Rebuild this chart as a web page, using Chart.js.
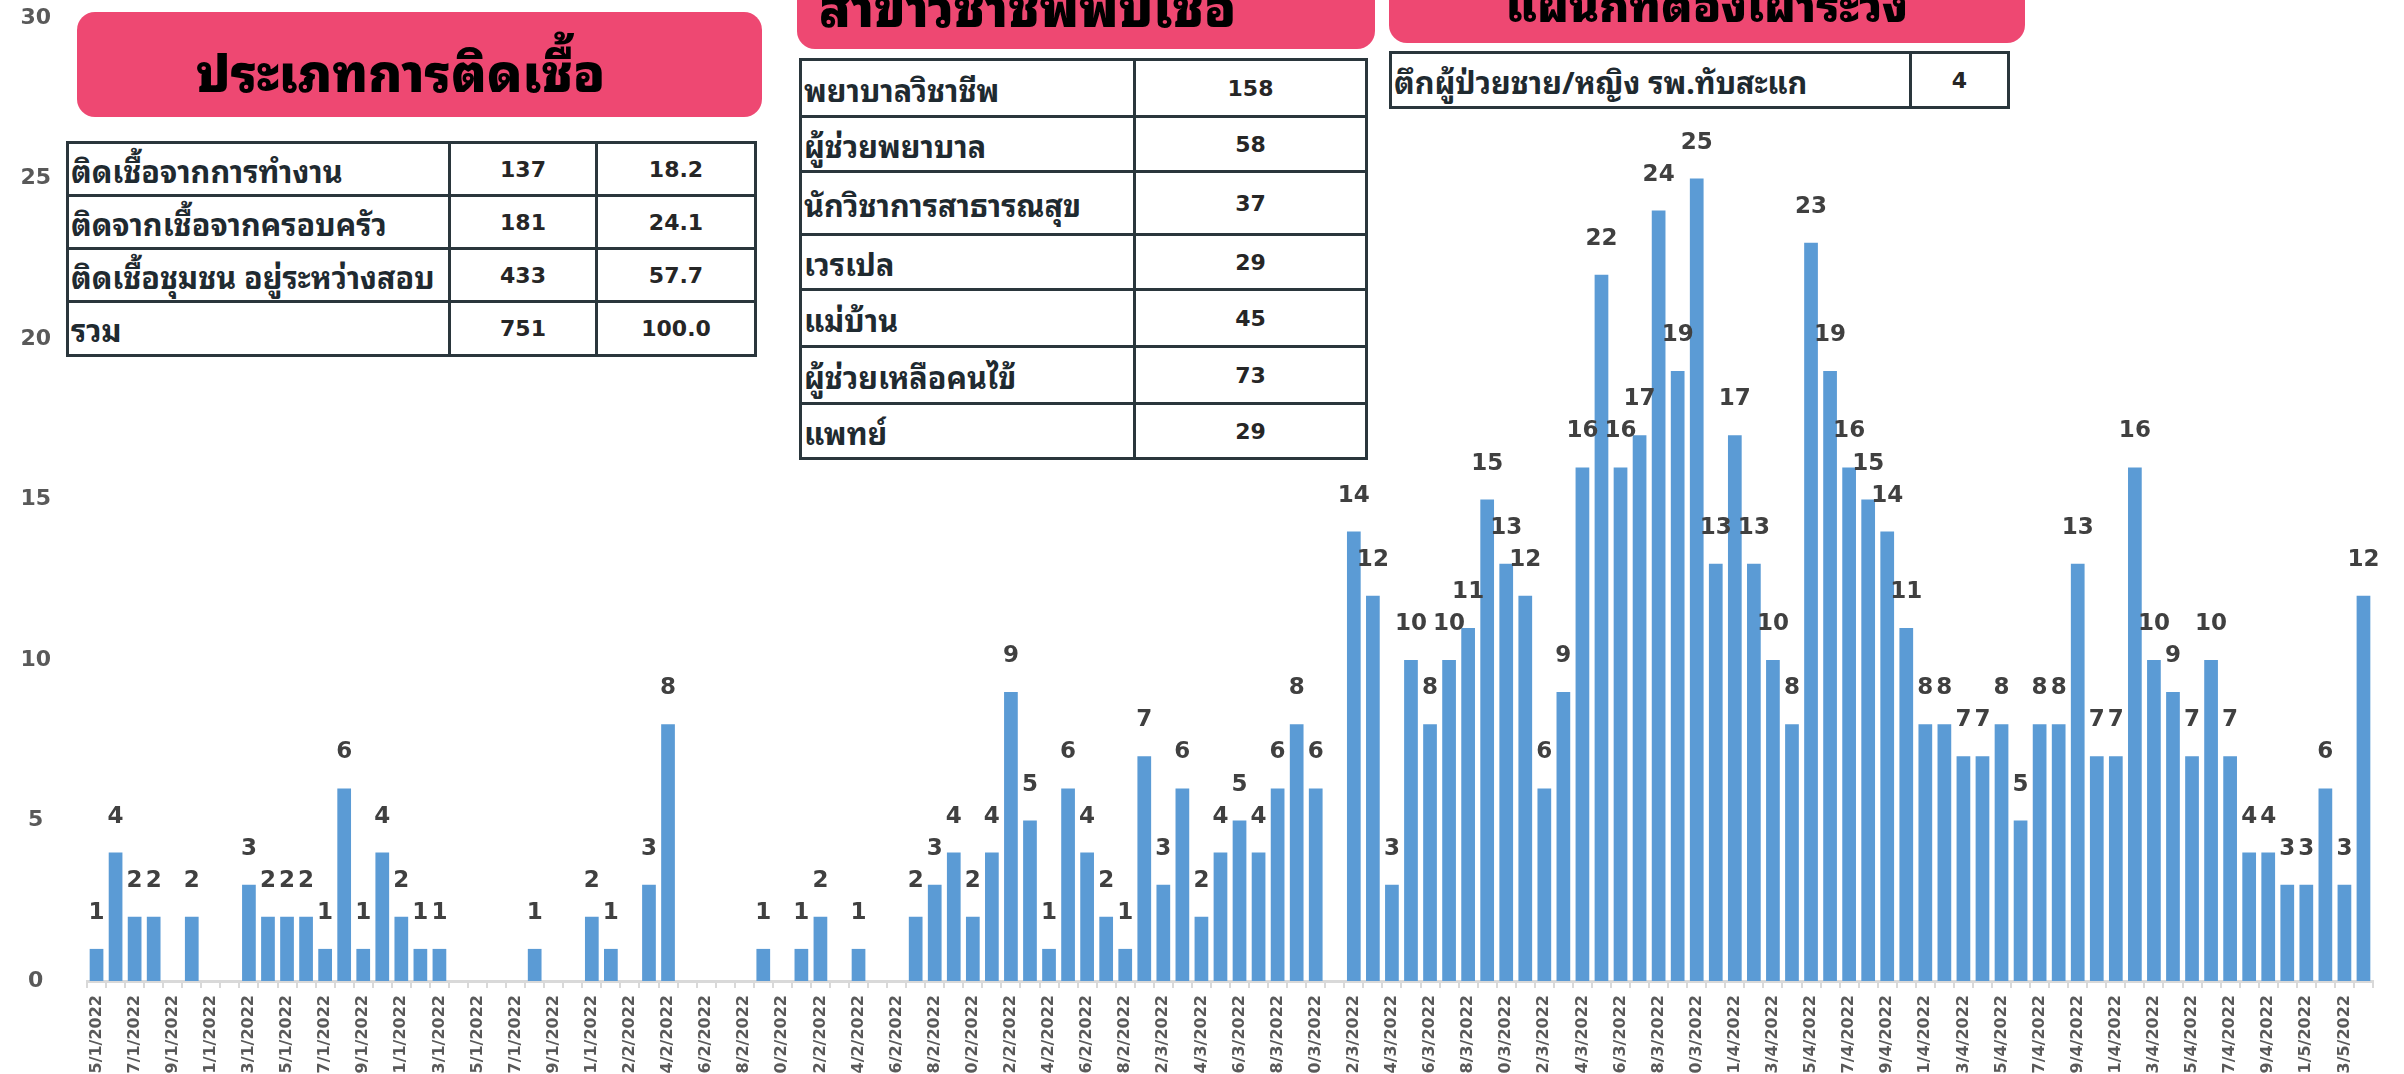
<!DOCTYPE html>
<html>
<head>
<meta charset="utf-8">
<script src="https://cdn.jsdelivr.net/npm/chart.js@4.4.1/dist/chart.umd.min.js"></script>
<style>
  html, body { margin: 0; padding: 0; background: #fff; width: 2404px; height: 1074px; overflow: hidden; }
  #wrap { position: relative; width: 2404px; height: 1100px; }
  canvas { position: absolute; left: 0; top: 0; }
  .banner {
    position: absolute; background: #ee4872; border-radius: 18px; box-sizing: border-box;
    display: flex; align-items: center; justify-content: center;
    font-family: "Noto Sans Thai Looped", Loma, Garuda, "Noto Sans Thai", Sarabun, sans-serif;
    font-weight: 900; font-size: 51px; color: #000;
  }
  table.box {
    position: absolute; border-collapse: collapse; background: #fff;
    font-family: "Noto Sans Thai Looped", Loma, Garuda, "Noto Sans Thai", Sarabun, sans-serif;
    font-weight: bold; font-size: 30.5px; color: #1f2a30; table-layout: fixed;
  }
  table.box td { border: 3px solid #2a363c; padding: 0 0 0 2px; white-space: nowrap; }
  table.box td.num { text-align: center; font-family: "DejaVu Sans", sans-serif; font-size: 22px; color: #262626; padding: 0; }
</style>
</head>
<body>
<div id="wrap">
  <canvas id="casesChart" width="2404" height="1100"></canvas>

  <div class="banner" style="left:77px; top:12px; width:685px; height:105px; padding-top:8px; padding-right:38px;">ประเภทการติดเชื้อ</div>
  <table class="box" style="left:66px; top:141px; width:688px;">
    <colgroup><col style="width:382px"><col style="width:147px"><col style="width:159px"></colgroup>
    <tbody id="typeRows"></tbody>
  </table>

  <div class="banner" style="left:797px; top:-56px; width:578px; height:105px; padding-top:14px; justify-content:flex-start; padding-left:22px;">สาขาวิชาชีพพบเชื้อ</div>
  <table class="box" style="left:799px; top:58px; width:566px;">
    <colgroup><col style="width:334px"><col style="width:232px"></colgroup>
    <tbody id="jobRows"></tbody>
  </table>

  <div class="banner" style="left:1389px; top:-62px; width:636px; height:105px; padding-top:22px; font-size:45px;">แผนกที่ต้องเฝ้าระวัง</div>
  <table class="box" style="left:1389px; top:51px; width:618px;">
    <colgroup><col style="width:520px"><col style="width:98px"></colgroup>
    <tbody id="wardRows"></tbody>
  </table>
</div>

<script>
// daily new cases, 5/1/2022 .. 4/5/2022
const dates = [];
const months = [[1, 5, 31], [2, 1, 28], [3, 1, 31], [4, 1, 30], [5, 1, 4]];
months.forEach(([m, from, to]) => {
  for (let d = from; d <= to; d++) dates.push(d + '/' + m + '/2022');
});

const cases = [
  1, 4, 2, 2, 0, 2, 0, 0, 3, 2,
  2, 2, 1, 6, 1, 4, 2, 1, 1, 0,
  0, 0, 0, 1, 0, 0, 2, 1, 0, 3,
  8, 0, 0, 0, 0, 1, 0, 1, 2, 0,
  1, 0, 0, 2, 3, 4, 2, 4, 9, 5,
  1, 6, 4, 2, 1, 7, 3, 6, 2, 4,
  5, 4, 6, 8, 6, 0, 14, 12, 3, 10,
  8, 10, 11, 15, 13, 12, 6, 9, 16, 22,
  16, 17, 24, 19, 25, 13, 17, 13, 10, 8,
  23, 19, 16, 15, 14, 11, 8, 8, 7, 7,
  8, 5, 8, 8, 13, 7, 7, 16, 10, 9,
  7, 10, 7, 4, 4, 3, 3, 6, 3, 12
];

const yTicks = [0, 5, 10, 15, 20, 25, 30];

// side tables
const typeNames = ['ติดเชื้อจากการทำงาน', 'ติดจากเชื้อจากครอบครัว', 'ติดเชื้อชุมชน อยู่ระหว่างสอบ', 'รวม'];
const typeCounts = ['137', '181', '433', '751'];
const typePercent = ['18.2', '24.1', '57.7', '100.0'];

const jobNames = ['พยาบาลวิชาชีพ', 'ผู้ช่วยพยาบาล', 'นักวิชาการสาธารณสุข', 'เวรเปล', 'แม่บ้าน', 'ผู้ช่วยเหลือคนไข้', 'แพทย์'];
const jobCounts = ['158', '58', '37', '29', '45', '73', '29'];
const jobRowHeights = [57, 55, 63, 55, 57, 57, 55];

const wardNames = ['ตึกผู้ป่วยชาย/หญิง รพ.ทับสะแก'];
const wardCounts = ['4'];

function fillRows(id, cols, heights) {
  const body = document.getElementById(id);
  cols[0].forEach((_, r) => {
    const tr = document.createElement('tr');
    tr.style.height = heights[r] + 'px';
    cols.forEach((col, c) => {
      const td = document.createElement('td');
      td.textContent = col[r];
      if (c > 0) td.className = 'num';
      tr.appendChild(td);
    });
    body.appendChild(tr);
  });
}
fillRows('typeRows', [typeNames, typeCounts, typePercent], [53, 53, 53, 54]);
fillRows('jobRows', [jobNames, jobCounts], jobRowHeights);
fillRows('wardRows', [wardNames, wardCounts], [55]);

// value labels above the bars
const barLabels = {
  id: 'barLabels',
  afterDatasetsDraw(chart) {
    const ctx = chart.ctx;
    const meta = chart.getDatasetMeta(0);
    ctx.save();
    ctx.font = 'bold 23px "DejaVu Sans"';
    ctx.fillStyle = '#404040';
    ctx.textAlign = 'center';
    ctx.textBaseline = 'alphabetic';
    meta.data.forEach((bar, i) => {
      if (!cases[i]) return;
      ctx.fillText(String(cases[i]), bar.x, bar.y - 30);
    });
    ctx.restore();
  }
};

const ctx = document.getElementById('casesChart').getContext('2d');
const casesChart = new Chart(ctx, {
  type: 'bar',
  data: {
    labels: dates,
    datasets: [{
      data: cases,
      backgroundColor: '#5b9bd5',
      borderWidth: 0,
      categoryPercentage: 1,
      barPercentage: 0.72
    }]
  },
  options: {
    responsive: false,
    animation: false,
    devicePixelRatio: 1,
    layout: { padding: { top: 18, right: 31, left: 0, bottom: 0 } },
    plugins: {
      legend: { display: false },
      tooltip: { enabled: false }
    },
    scales: {
      x: {
        grid: { display: true, drawOnChartArea: false, drawTicks: true, tickLength: 7, color: '#d9d9d9', lineWidth: 2, offset: true },
        border: { display: true, color: '#d9d9d9', width: 3 },
        ticks: {
          autoSkip: false,
          minRotation: 90,
          maxRotation: 90,
          padding: 7,
          color: '#595959',
          font: { family: 'DejaVu Sans', weight: 'bold', size: 16 },
          callback: (v, i) => (i % 2 === 0 ? dates[i] : '')
        },
        afterFit: (s) => { s.height = 119; }
      },
      y: {
        min: 0,
        max: 30,
        afterBuildTicks: (s) => { s.ticks = yTicks.map(v => ({ value: v })); },
        grid: { display: false },
        border: { display: false },
        ticks: {
          crossAlign: 'center',
          padding: 28,
          color: '#595959',
          font: { family: 'DejaVu Sans', weight: 'bold', size: 22 }
        },
        afterFit: (s) => { s.width = 87; s.paddingTop = 0; s.paddingBottom = 0; }
      }
    }
  },
  plugins: [barLabels]
});
</script>
</body>
</html>
